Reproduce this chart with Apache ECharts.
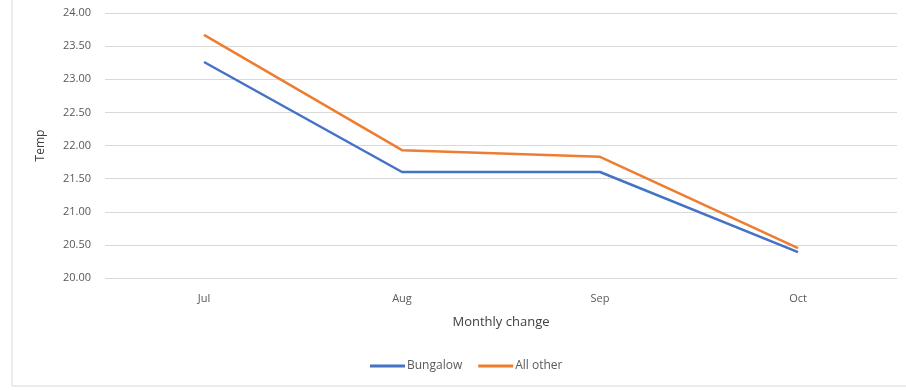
<!DOCTYPE html>
<html>
<head>
<meta charset="utf-8">
<script src="https://cdn.jsdelivr.net/npm/echarts@6/dist/echarts.min.js"></script>
<style>
  html, body { margin: 0; padding: 0; background: #fff; }
  #chart { width: 906px; height: 391px; }
</style>
</head>
<body>
<div id="chart"></div>
<script>
// Monthly average temperature by dwelling type
const months = ['Jul', 'Aug', 'Sep', 'Oct'];
const bungalow = [23.26, 21.60, 21.60, 20.39];
const allOther = [23.67, 21.93, 21.83, 20.45];
const yTicks = { min: 20, max: 24, step: 0.5 };

const font = '"Open Sans", "Liberation Sans", sans-serif';
const chart = echarts.init(document.getElementById('chart'));
chart.setOption({
  animation: false,
  backgroundColor: '#fff',
  graphic: [{
    type: 'polyline',
    shape: { points: [[12, 0], [12, 386], [906, 386]] },
    style: { stroke: '#d9d9d9', lineWidth: 1, fill: null }
  }],
  grid: { left: 105, right: 9, top: 13, bottom: 113 },
  legend: {
    bottom: 14, left: 365,
    itemWidth: 35, itemHeight: 3, itemGap: 16,
    icon: 'rect',
    textStyle: { color: '#595959', fontSize: 12, fontFamily: font, padding: [0, 0, 0, -3] },
    data: ['Bungalow', 'All other']
  },
  xAxis: {
    type: 'category',
    data: months,
    boundaryGap: true,
    name: 'Monthly change',
    nameLocation: 'middle',
    nameGap: 38,
    nameTextStyle: { color: '#404040', fontSize: 13, fontFamily: font },
    axisLine: { show: false },
    axisTick: { show: false },
    axisLabel: { color: '#595959', fontSize: 11, fontFamily: font, margin: 15 }
  },
  yAxis: {
    type: 'value',
    min: yTicks.min, max: yTicks.max, interval: yTicks.step,
    name: 'Temp',
    nameLocation: 'middle',
    nameGap: 58,
    nameRotate: 90,
    nameTextStyle: { color: '#404040', fontSize: 12, fontFamily: font },
    axisLine: { show: false },
    axisTick: { show: false },
    axisLabel: {
      color: '#595959', fontSize: 11, fontFamily: font, margin: 14,
      formatter: v => v.toFixed(2)
    },
    splitLine: { lineStyle: { color: '#d9d9d9', width: 1 } }
  },
  series: [
    {
      name: 'Bungalow', type: 'line', data: bungalow,
      symbol: 'none',
      lineStyle: { color: '#4472C4', width: 2.5 },
      itemStyle: { color: '#4472C4' }
    },
    {
      name: 'All other', type: 'line', data: allOther,
      symbol: 'none',
      lineStyle: { color: '#ED7D31', width: 2.5 },
      itemStyle: { color: '#ED7D31' }
    }
  ]
});
</script>
</body>
</html>
